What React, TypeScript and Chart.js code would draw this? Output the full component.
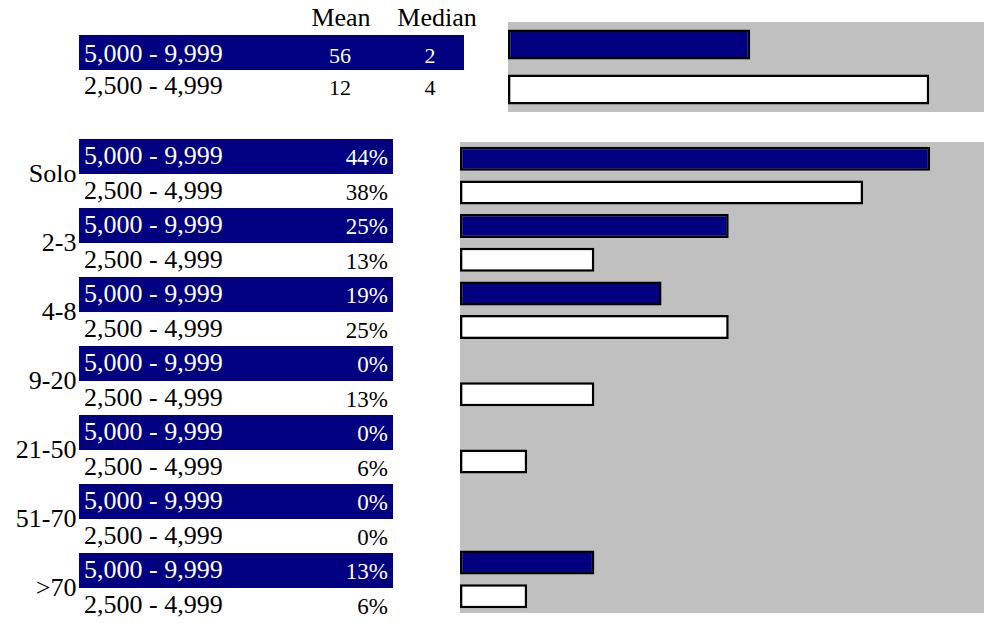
import React, { useEffect, useRef } from 'react';
import { Chart, registerables } from 'chart.js';
Chart.register(...registerables);

// ---- data ----
const incomeBands = ['5,000 - 9,999', '2,500 - 4,999'];
const meanValues = [56, 12];
const medianValues = [2, 4];
const topBarLengths = [2.3, 4.0];
const topAxisMax = 4.52;

const teamSizes = ['Solo', '2-3', '4-8', '9-20', '21-50', '51-70', '>70'];
const shareHigh = [43.75, 25, 18.75, 0, 0, 0, 12.5];
const shareLow = [37.5, 12.5, 25, 12.5, 6.25, 0, 6.25];
const shareAxisMax = 48.75;

const NAVY = '#000080';
const GRAY = '#c0c0c0';
const FONT = '"Liberation Serif", "Times New Roman", serif';
const W = 984;

const bgPlugin = {
  id: 'grayBg',
  beforeDraw(chart: any) {
    const { ctx, chartArea } = chart;
    ctx.save();
    ctx.fillStyle = GRAY;
    ctx.fillRect(chartArea.left, chartArea.top, chartArea.right - chartArea.left, chartArea.bottom - chartArea.top);
    ctx.restore();
  },
};

function T(props: { x: number; base: number; size: number; color?: string; align?: string; children: any }) {
  const { x, base, size, color = '#000', align = 'left', children } = props;
  const style: any = {
    position: 'absolute',
    top: base - 0.8375 * size,
    fontSize: size,
    lineHeight: size + 'px',
    fontFamily: FONT,
    color,
    whiteSpace: 'nowrap',
  };
  if (align === 'left') style.left = x;
  else if (align === 'right') style.right = W - x;
  else {
    style.left = x;
    style.transform = 'translateX(-50%)';
  }
  return <div style={style}>{children}</div>;
}

function BarCanvas(props: {
  left: number; top: number; width: number; height: number;
  labels: string[]; datasets: any[]; max: number; barPct: number;
}) {
  const { left, top, width, height, labels, datasets, max, barPct } = props;
  const ref = useRef<HTMLCanvasElement>(null);
  useEffect(() => {
    const chart = new Chart(ref.current as HTMLCanvasElement, {
      type: 'bar',
      data: { labels, datasets },
      options: {
        indexAxis: 'y',
        responsive: false,
        maintainAspectRatio: false,
        animation: false,
        layout: { padding: 0 },
        plugins: { legend: { display: false }, tooltip: { enabled: false } },
        scales: {
          x: { display: false, min: 0, max },
          y: { display: false },
        },
        datasets: {
          bar: {
            categoryPercentage: 1,
            barPercentage: barPct,
            borderWidth: 2.5,
            borderColor: '#000',
            borderSkipped: false,
          },
        },
      } as any,
      plugins: [bgPlugin],
    });
    return () => chart.destroy();
  }, []);
  return (
    <canvas
      ref={ref}
      width={width}
      height={height}
      style={{ position: 'absolute', left, top, width, height }}
    />
  );
}

export default function App() {
  const rowH = 34.5;
  const tableTop = 139;
  const rows: any[] = [];
  teamSizes.forEach((g, gi) => {
    [shareHigh[gi], shareLow[gi]].forEach((v, k) => {
      const i = gi * 2 + k;
      const top = tableTop + i * rowH;
      const dark = k === 0;
      if (dark) {
        rows.push(
          <div key={'bg' + i} style={{ position: 'absolute', left: 79, top: Math.round(top), width: 314, height: Math.round(top + rowH) - Math.round(top), background: NAVY }} />
        );
      }
      rows.push(
        <T key={'l' + i} x={84} base={top + 26} size={26} color={dark ? '#fff' : '#000'}>{incomeBands[k]}</T>
      );
      rows.push(
        <T key={'p' + i} x={388} base={top + 26.5} size={23} color={dark ? '#fff' : '#000'} align="right">{Math.round(v) + '%'}</T>
      );
    });
    rows.push(
      <T key={'g' + gi} x={76.5} base={tableTop + gi * 2 * rowH + 43.5} size={26} align="right">{g}</T>
    );
  });

  return (
    <div style={{ position: 'absolute', left: 0, top: 0, width: W, height: 623, overflow: 'hidden', background: '#fff' }}>
      {/* top table */}
      <T x={341} base={27} size={26} align="center">Mean</T>
      <T x={437} base={27} size={26} align="center">Median</T>
      <div style={{ position: 'absolute', left: 79, top: 35, width: 385, height: 35, background: NAVY }} />
      {incomeBands.map((b, i) => (
        <React.Fragment key={'tb' + i}>
          <T x={84} base={63 + i * 32} size={26} color={i === 0 ? '#fff' : '#000'}>{b}</T>
          <T x={340} base={63 + i * 32} size={22} color={i === 0 ? '#fff' : '#000'} align="center">{meanValues[i]}</T>
          <T x={430} base={63 + i * 32} size={22} color={i === 0 ? '#fff' : '#000'} align="center">{medianValues[i]}</T>
        </React.Fragment>
      ))}
      <BarCanvas
        left={508}
        top={22}
        width={476}
        height={90}
        labels={incomeBands}
        datasets={[{ label: 'Median', data: topBarLengths, backgroundColor: [NAVY, '#ffffff'] }]}
        max={topAxisMax}
        barPct={0.667}
      />
      {/* bottom table */}
      {rows}
      <BarCanvas
        left={460}
        top={142}
        width={524}
        height={471}
        labels={teamSizes}
        datasets={[
          { label: incomeBands[0], data: shareHigh, backgroundColor: NAVY },
          { label: incomeBands[1], data: shareLow, backgroundColor: '#ffffff' },
        ]}
        max={shareAxisMax}
        barPct={0.714}
      />
    </div>
  );
}
